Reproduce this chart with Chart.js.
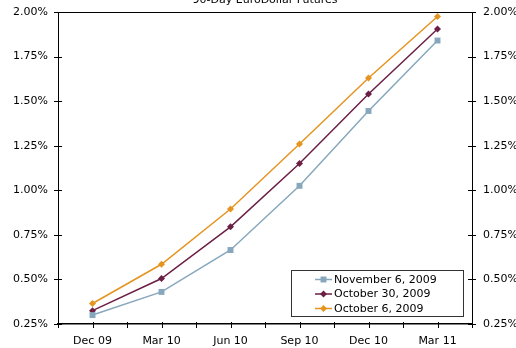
<!DOCTYPE html>
<html>
<head>
<meta charset="utf-8">
<title>90-Day EuroDollar Futures</title>
<script src="https://cdn.jsdelivr.net/npm/chart.js@4/dist/chart.umd.min.js"></script>
<style>
  html, body { margin: 0; padding: 0; background: #ffffff; }
  #wrap { position: relative; width: 516px; height: 348px; overflow: hidden; }
  canvas { display: block; }
</style>
</head>
<body>
<div id="wrap"><canvas id="chart" width="516" height="348"></canvas></div>
<script>
// Contract months along the curve
const categories = ['Dec 09', 'Mar 10', 'Jun 10', 'Sep 10', 'Dec 10', 'Mar 11'];

// Futures-implied rates (%) for each pricing date
const nov6 = [0.30, 0.43, 0.665, 1.025, 1.445, 1.84];
const oct30 = [0.325, 0.505, 0.795, 1.15, 1.54, 1.905];
const oct6 = [0.365, 0.585, 0.895, 1.26, 1.63, 1.975];

const seriesNames = ['November 6, 2009', 'October 30, 2009', 'October 6, 2009'];

// Rate axis
const yMin = 0.25;
const yMax = 2.00;
const yStep = 0.25;

const chartTitle = '90-Day EuroDollar Futures';

const FONT = 'DejaVu Sans';

function points(values) {
  return values.map((v, i) => ({ x: i, y: v }));
}

function pctLabel(v) {
  return v.toFixed(2) + '%';
}

// Title sits above the frame and is partly cut off by the top edge
const titlePlugin = {
  id: 'topTitle',
  afterDraw(chart) {
    const ctx = chart.ctx;
    const a = chart.chartArea;
    ctx.save();
    ctx.font = '11px "' + FONT + '"';
    ctx.fillStyle = '#000';
    ctx.textAlign = 'center';
    ctx.textBaseline = 'alphabetic';
    ctx.fillText(chartTitle, (a.left + a.right) / 2, 3);
    ctx.restore();
  }
};

// Frame top line and tick marks that cross each axis line
const frameTicksPlugin = {
  id: 'frameTicks',
  afterDraw(chart) {
    const ctx = chart.ctx;
    const a = chart.chartArea;
    ctx.save();
    ctx.strokeStyle = '#000';
    ctx.lineWidth = 1;
    ctx.beginPath();
    ctx.moveTo(a.left, a.top + 0.5);
    ctx.lineTo(a.right, a.top + 0.5);
    ctx.stroke();

    const xs = chart.scales.x;
    ctx.beginPath();
    xs.ticks.forEach((t, i) => {
      const px = Math.round(xs.getPixelForTick(i)) + 0.5;
      ctx.moveTo(px, a.bottom - 2);
      ctx.lineTo(px, a.bottom + 4);
    });
    ['y', 'y2'].forEach(id => {
      const s = chart.scales[id];
      const ax = id === 'y' ? a.left : a.right;
      s.ticks.forEach((t, i) => {
        const py = Math.round(s.getPixelForTick(i)) + 0.5;
        ctx.moveTo(ax - 4, py);
        ctx.lineTo(ax + 4, py);
      });
    });
    ctx.stroke();
    ctx.restore();
  }
};

// Boxed legend in the lower right of the plot
const boxLegendPlugin = {
  id: 'boxLegend',
  afterDraw(chart) {
    const ctx = chart.ctx;
    const a = chart.chartArea;
    const boxRight = a.right - 9;
    const boxLeft = boxRight - 172;
    const boxBottom = a.bottom - 8;
    const rowH = 14.5;
    const boxTop = boxBottom - 46;
    ctx.save();
    ctx.fillStyle = '#fff';
    ctx.fillRect(boxLeft, boxTop, boxRight - boxLeft, boxBottom - boxTop);
    ctx.strokeStyle = '#333';
    ctx.lineWidth = 1;
    ctx.strokeRect(boxLeft + 0.5, boxTop + 0.5, boxRight - boxLeft, boxBottom - boxTop);
    ctx.font = '11px "' + FONT + '"';
    ctx.textBaseline = 'middle';
    ctx.textAlign = 'left';
    chart.data.datasets.forEach((ds, i) => {
      const cy = boxTop + 9.5 + i * rowH;
      const x0 = boxLeft + 24;
      const mx = x0 + 8.5;
      ctx.strokeStyle = ds.borderColor;
      ctx.lineWidth = 1.5;
      ctx.beginPath();
      ctx.moveTo(x0, cy);
      ctx.lineTo(x0 + 17, cy);
      ctx.stroke();
      ctx.fillStyle = ds.pointBackgroundColor;
      const r = ds.pointRadius;
      ctx.beginPath();
      if (ds.pointStyle === 'rect') {
        const h = r * Math.SQRT1_2;
        ctx.rect(mx - h, cy - h, 2 * h, 2 * h);
      } else {
        ctx.moveTo(mx, cy - r);
        ctx.lineTo(mx + r, cy);
        ctx.lineTo(mx, cy + r);
        ctx.lineTo(mx - r, cy);
        ctx.closePath();
      }
      ctx.fill();
      ctx.fillStyle = '#000';
      ctx.fillText(ds.label, x0 + 19, cy + 0.5);
    });
    ctx.restore();
  }
};

const BLUE = '#87a7bd';
const PURPLE = '#6b1f45';
const ORANGE = '#e59420';

function makeSet(label, values, color, style, radius) {
  return {
    label: label,
    data: points(values),
    borderColor: color,
    backgroundColor: color,
    pointBackgroundColor: color,
    pointBorderColor: color,
    pointBorderWidth: 0,
    pointStyle: style,
    pointRadius: radius,
    borderWidth: 1.5,
    tension: 0,
    yAxisID: 'y'
  };
}

const tickFont = { family: FONT, size: 11 };

new Chart(document.getElementById('chart'), {
  type: 'line',
  data: {
    datasets: [
      makeSet(seriesNames[0], nov6, BLUE, 'rect', 4.2),
      makeSet(seriesNames[1], oct30, PURPLE, 'rectRot', 3.5),
      makeSet(seriesNames[2], oct6, ORANGE, 'rectRot', 3.5)
    ]
  },
  options: {
    responsive: false,
    animation: false,
    devicePixelRatio: 1,
    layout: { padding: { top: 12, left: 0, right: 0, bottom: 0 } },
    plugins: {
      legend: { display: false },
      title: { display: false },
      tooltip: { enabled: false }
    },
    scales: {
      x: {
        type: 'linear',
        position: 'bottom',
        min: -0.5,
        max: categories.length - 0.5,
        grid: { display: false, drawTicks: true, tickLength: 5 },
        border: { display: true, color: '#000', width: 1.5 },
        ticks: {
          stepSize: 0.5,
          autoSkip: false,
          maxRotation: 0,
          minRotation: 0,
          padding: 6,
          color: '#000',
          font: tickFont,
          callback: v => {
            const r = Math.round(v);
            return Math.abs(v - r) < 1e-9 && r >= 0 && r < categories.length ? categories[r] : '';
          }
        },
        afterFit: s => { s.height = 24; }
      },
      y: {
        type: 'linear',
        position: 'left',
        min: yMin,
        max: yMax,
        grid: { display: false, drawTicks: true, tickLength: 5 },
        border: { display: true, color: '#000', width: 1 },
        ticks: { stepSize: yStep, padding: 5, color: '#000', font: tickFont, callback: pctLabel },
        afterFit: s => { s.width = 58; }
      },
      y2: {
        type: 'linear',
        position: 'right',
        min: yMin,
        max: yMax,
        grid: { display: false, drawTicks: true, tickLength: 6 },
        border: { display: true, color: '#000', width: 1 },
        ticks: { stepSize: yStep, padding: 5, color: '#000', font: tickFont, callback: pctLabel },
        afterFit: s => { s.width = 44; }
      }
    }
  },
  plugins: [titlePlugin, frameTicksPlugin, boxLegendPlugin]
});
</script>
</body>
</html>
